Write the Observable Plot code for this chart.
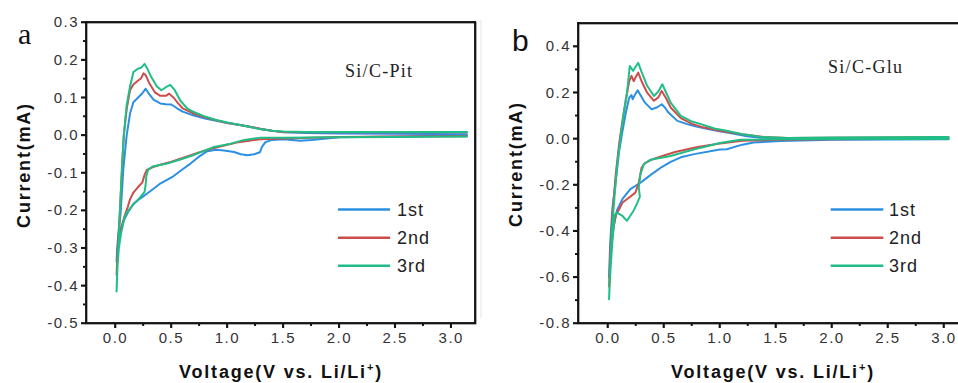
<!DOCTYPE html>
<html><head><meta charset="utf-8">
<script src="https://cdn.jsdelivr.net/npm/d3@7"></script>
<script src="https://cdn.jsdelivr.net/npm/@observablehq/plot@0.6"></script>
<style>
html,body{margin:0;padding:0;background:#fff;overflow:hidden;width:958px;height:383px}
#wrap{position:relative;width:958px;height:383px;overflow:hidden;background:#fff}
.panel{position:absolute;top:0}
.panel svg{max-width:none !important}
.panel svg text{fill:#333}
</style></head>
<body><div id="wrap"></div>
<script>
// ---------- data: [voltage (V), current (mA)] ----------
const seriesNames = ["1st", "2nd", "3rd"];
const seriesColors = ["#2b8fe3", "#cc4e4b", "#20be86"];
const inkColor = "#151515";

const pit1st = [[3.14,0.0],[2.5,-0.003],[2.0,-0.005],[1.75,-0.012],[1.65,-0.014],[1.5,-0.01],[1.4,-0.012],[1.34,-0.018],[1.31,-0.03],[1.29,-0.045],[1.24,-0.05],[1.18,-0.053],[1.12,-0.05],[1.06,-0.044],[0.97,-0.04],[0.9,-0.038],[0.82,-0.042],[0.74,-0.058],[0.67,-0.075],[0.6,-0.09],[0.52,-0.108],[0.46,-0.118],[0.4,-0.128],[0.34,-0.142],[0.28,-0.155],[0.22,-0.168],[0.16,-0.182],[0.12,-0.2],[0.075,-0.226],[0.05,-0.245],[0.03,-0.265],[0.015,-0.3],[0.01,-0.335],
  [0.02,-0.28],[0.045,-0.21],[0.07,-0.09],[0.1,0.0],[0.13,0.058],[0.16,0.088],[0.2,0.1],[0.24,0.112],[0.27,0.124],[0.3,0.11],[0.34,0.095],[0.4,0.085],[0.45,0.083],[0.5,0.082],[0.55,0.072],[0.6,0.063],[0.7,0.053],[0.8,0.045],[0.9,0.039],[1.0,0.033],[1.1,0.028],[1.2,0.023],[1.3,0.017],[1.4,0.012],[1.5,0.008],[1.7,0.006],[2.0,0.005],[2.5,0.004],[3.14,0.003]];
const pit2nd = [[3.14,-0.002],[2.5,-0.003],[2.0,-0.004],[1.5,-0.008],[1.3,-0.01],[1.1,-0.018],[1.0,-0.025],[0.9,-0.032],[0.8,-0.04],[0.7,-0.05],[0.6,-0.06],[0.5,-0.07],[0.4,-0.078],[0.33,-0.085],[0.28,-0.092],[0.26,-0.105],[0.24,-0.125],[0.2,-0.138],[0.16,-0.152],[0.13,-0.17],[0.11,-0.19],[0.08,-0.215],[0.05,-0.25],[0.03,-0.28],[0.015,-0.33],[0.01,-0.37],
  [0.02,-0.3],[0.04,-0.2],[0.06,-0.08],[0.074,0.0],[0.1,0.07],[0.13,0.12],[0.16,0.135],[0.2,0.145],[0.23,0.152],[0.25,0.165],[0.27,0.16],[0.3,0.14],[0.35,0.115],[0.4,0.105],[0.45,0.105],[0.48,0.111],[0.52,0.1],[0.56,0.085],[0.6,0.072],[0.7,0.058],[0.8,0.048],[0.9,0.04],[1.0,0.033],[1.1,0.028],[1.2,0.023],[1.3,0.017],[1.4,0.012],[1.5,0.009],[1.7,0.008],[2.0,0.008],[2.5,0.008],[3.14,0.008]];
const pit3rd = [[3.14,-0.003],[2.5,-0.004],[2.0,-0.005],[1.5,-0.006],[1.3,-0.006],[1.15,-0.012],[1.03,-0.022],[0.88,-0.031],[0.7,-0.052],[0.6,-0.062],[0.46,-0.075],[0.33,-0.083],[0.29,-0.092],[0.275,-0.11],[0.27,-0.13],[0.26,-0.15],[0.22,-0.165],[0.17,-0.18],[0.13,-0.195],[0.1,-0.205],[0.08,-0.22],[0.05,-0.26],[0.03,-0.3],[0.015,-0.36],[0.01,-0.415],
  [0.02,-0.33],[0.04,-0.2],[0.06,-0.07],[0.075,0.0],[0.1,0.08],[0.13,0.13],[0.16,0.168],[0.2,0.177],[0.23,0.18],[0.26,0.19],[0.28,0.18],[0.32,0.155],[0.37,0.13],[0.41,0.12],[0.45,0.128],[0.49,0.134],[0.53,0.12],[0.58,0.092],[0.64,0.072],[0.7,0.062],[0.8,0.05],[0.9,0.041],[1.0,0.034],[1.1,0.028],[1.2,0.022],[1.3,0.016],[1.4,0.012],[1.5,0.01],[1.7,0.009],[2.0,0.009],[2.5,0.009],[3.14,0.009]];

const glu1st = [[3.04,-0.002],[2.5,-0.003],[2.0,-0.004],[1.54,-0.009],[1.3,-0.016],[1.2,-0.025],[1.06,-0.045],[1.0,-0.046],[0.77,-0.066],[0.65,-0.08],[0.56,-0.1],[0.48,-0.122],[0.41,-0.146],[0.35,-0.168],[0.29,-0.19],[0.2,-0.218],[0.13,-0.26],[0.08,-0.31],[0.05,-0.38],[0.03,-0.45],[0.02,-0.51],[0.01,-0.6],
  [0.02,-0.45],[0.04,-0.3],[0.07,-0.18],[0.1,-0.052],[0.13,0.035],[0.16,0.114],[0.19,0.179],[0.21,0.19],[0.22,0.172],[0.24,0.19],[0.265,0.211],[0.29,0.19],[0.33,0.157],[0.39,0.128],[0.44,0.137],[0.48,0.15],[0.51,0.135],[0.54,0.114],[0.62,0.078],[0.7,0.065],[0.77,0.056],[0.87,0.045],[0.97,0.035],[1.1,0.024],[1.22,0.013],[1.36,0.005],[1.6,0.003],[2.0,0.004],[2.5,0.004],[3.04,0.005]];
const glu2nd = [[3.04,-0.001],[2.5,-0.001],[2.0,-0.002],[1.5,-0.004],[1.2,-0.008],[1.0,-0.02],[0.8,-0.035],[0.6,-0.057],[0.5,-0.072],[0.4,-0.088],[0.33,-0.105],[0.3,-0.125],[0.275,-0.19],[0.245,-0.233],[0.19,-0.254],[0.13,-0.276],[0.1,-0.305],[0.07,-0.33],[0.05,-0.384],[0.03,-0.47],[0.02,-0.54],[0.01,-0.64],
  [0.02,-0.5],[0.04,-0.33],[0.07,-0.15],[0.1,-0.02],[0.13,0.08],[0.16,0.17],[0.19,0.25],[0.21,0.273],[0.23,0.25],[0.25,0.27],[0.27,0.287],[0.3,0.25],[0.35,0.2],[0.41,0.165],[0.45,0.18],[0.48,0.208],[0.52,0.175],[0.56,0.136],[0.65,0.09],[0.75,0.065],[0.85,0.05],[1.0,0.035],[1.2,0.02],[1.4,0.008],[1.6,0.004],[2.0,0.005],[2.5,0.006],[3.04,0.007]];
const glu3rd = [[3.04,0.0],[2.5,-0.001],[2.0,-0.001],[1.5,-0.002],[1.18,-0.004],[1.0,-0.018],[0.83,-0.038],[0.7,-0.055],[0.56,-0.074],[0.45,-0.084],[0.38,-0.09],[0.32,-0.11],[0.29,-0.153],[0.275,-0.21],[0.285,-0.25],[0.26,-0.28],[0.23,-0.31],[0.17,-0.355],[0.13,-0.334],[0.08,-0.32],[0.06,-0.33],[0.04,-0.44],[0.02,-0.586],[0.01,-0.695],
  [0.02,-0.55],[0.035,-0.4],[0.05,-0.3],[0.08,-0.124],[0.11,0.0],[0.14,0.107],[0.17,0.2],[0.195,0.316],[0.225,0.295],[0.25,0.315],[0.27,0.33],[0.3,0.29],[0.35,0.23],[0.41,0.186],[0.45,0.205],[0.485,0.237],[0.52,0.2],[0.56,0.157],[0.65,0.1],[0.75,0.075],[0.83,0.064],[0.95,0.045],[1.06,0.035],[1.2,0.02],[1.36,0.009],[1.6,0.004],[2.0,0.006],[2.5,0.007],[3.04,0.008]];

// ---------- ticks ----------
const xTicksMajor = [0, 0.5, 1.0, 1.5, 2.0, 2.5, 3.0];
const xTicksMinor = [0.25, 0.75, 1.25, 1.75, 2.25, 2.75];
const pitYMajor = [-0.5, -0.4, -0.3, -0.2, -0.1, 0, 0.1, 0.2, 0.3];
const pitYMinor = [-0.45, -0.35, -0.25, -0.15, -0.05, 0.05, 0.15, 0.25];
const gluYMajor = [-0.8, -0.6, -0.4, -0.2, 0, 0.2, 0.4];
const gluYMinor = [-0.7, -0.5, -0.3, -0.1, 0.1, 0.3];

const panelLabels = ["a", "b"];
const sampleLabels = ["Si/C-Pit", "Si/C-Glu"];
const yTitle = "Current(mA)";
const xTitle = "Voltage(V vs. Li/Li";

const wrap = document.getElementById("wrap");

function panel(o) {
  const fmt = d => d.toFixed(1);
  const svg = Plot.plot({
    width: o.width, height: 383,
    marginLeft: o.ml, marginRight: o.mr, marginTop: o.mt, marginBottom: 60,
    style: {fontFamily: "'Liberation Sans', Arial, sans-serif", fontSize: "15px", letterSpacing: "1.5px", color: inkColor, background: "transparent", overflow: "visible", maxWidth: "none"},
    x: {domain: o.xd},
    y: {domain: o.yd},
    marks: [
      Plot.axisX({ticks: xTicksMajor, tickSize: 5, tickPadding: 4, tickFormat: fmt, label: null, stroke: inkColor, strokeWidth: 1.6, fontSize: 15}),
      Plot.axisX({ticks: xTicksMinor, tickSize: 3, tickFormat: () => "", label: null, stroke: inkColor, strokeWidth: 1.4}),
      Plot.axisY({ticks: o.yMajor, tickSize: 5, tickPadding: 2.5, tickFormat: fmt, label: null, stroke: inkColor, strokeWidth: 1.6, fontSize: 15}),
      Plot.axisY({ticks: o.yMinor, tickSize: 3, tickFormat: () => "", label: null, stroke: inkColor, strokeWidth: 1.4}),
      Plot.frame({stroke: inkColor, strokeWidth: 1.7}),
      ...o.series.map((s, i) => Plot.line(s, {x: d => d[0], y: d => d[1], stroke: seriesColors[i], strokeWidth: 2}))
    ]
  });
  const div = document.createElement("div");
  div.className = "panel";
  div.style.left = o.left + "px";
  div.style.width = o.width + "px";
  div.appendChild(svg);
  wrap.appendChild(div);
  const g = d3.select(svg);
  // frame and ticks as thin filled bars, positioned through Plot's own scales
  const sx = svg.scale("x"), sy = svg.scale("y");
  const [x0, x1] = sx.range, [y0, y1] = sy.range;
  const bottom = Math.max(y0, y1), top = Math.min(y0, y1);
  const ink = g.append("g").attr("fill", inkColor).attr("stroke", "none");
  const bar = (x, y, w, h) => ink.append("rect").attr("x", x).attr("y", y).attr("width", w).attr("height", h);
  bar(x0 - 0.9, top - 0.9, x1 - x0 + 1.8, 1.8);
  bar(x0 - 0.9, bottom - 0.9, x1 - x0 + 1.8, 1.8);
  bar(x0 - 0.9, top - 0.9, 1.8, bottom - top + 1.8);
  bar(x1 - 0.9, top - 0.9, 1.8, bottom - top + 1.8);
  xTicksMajor.forEach(v => bar(sx.apply(v) - 0.8, bottom, 1.6, 5));
  xTicksMinor.forEach(v => bar(sx.apply(v) - 0.7, bottom, 1.4, 3));
  o.yMajor.forEach(v => bar(x0 - 5, sy.apply(v) - 0.8, 5, 1.6));
  o.yMinor.forEach(v => bar(x0 - 3, sy.apply(v) - 0.7, 3, 1.4));
  // panel letter
  g.append("text").attr("x", o.letter[0]).attr("y", o.letter[1]).attr("text-anchor", "start")
    .attr("style", `fill:#111;font-family:${o.letterFont};font-size:${o.letterSize}px;letter-spacing:0`)
    .text(o.letterText);
  // y title
  g.append("text").attr("transform", `translate(${o.yt[0]},${o.yt[1]}) rotate(-90)`)
    .attr("text-anchor", "middle")
    .attr("style", "fill:#111;font-family:'Liberation Sans',Arial,sans-serif;font-weight:bold;font-size:18px;letter-spacing:1.8px")
    .text(yTitle);
  // x title
  const xt = g.append("text").attr("x", o.xt[0]).attr("y", o.xt[1]).attr("text-anchor", "middle")
    .attr("style", "fill:#111;font-family:'Liberation Sans',Arial,sans-serif;font-weight:bold;font-size:18px;letter-spacing:1.8px");
  xt.append("tspan").text(xTitle);
  xt.append("tspan").attr("dy", -7).attr("style", "font-size:11px").text("+");
  xt.append("tspan").attr("dy", 7).text(")");
  // sample name
  g.append("text").attr("x", o.name[0]).attr("y", o.name[1]).attr("text-anchor", "start")
    .attr("style", "fill:#222;font-family:'Liberation Serif','Times New Roman',serif;font-size:18px;letter-spacing:1.3px")
    .text(o.nameText);
  // legend
  const ly = [209.5, 237.7, 265.7];
  seriesNames.forEach((n, i) => {
    g.append("line").attr("x1", o.leg[0]).attr("x2", o.leg[1]).attr("y1", ly[i]).attr("y2", ly[i])
      .attr("stroke", seriesColors[i]).attr("stroke-width", 2.5);
    g.append("text").attr("x", o.leg[2]).attr("y", ly[i] + 6.5).attr("text-anchor", "start")
      .attr("style", "fill:#222;font-family:'Liberation Sans',Arial,sans-serif;font-size:18px;letter-spacing:1px")
      .text(n);
  });
  return g;
}

panel({
  left: 0, width: 480, ml: 86, mr: 5, mt: 22,
  xd: [-0.259, 3.217], yd: [-0.5, 0.3],
  yMajor: pitYMajor, yMinor: pitYMinor,
  series: [pit1st, pit2nd, pit3rd],
  letter: [18, 44], letterText: panelLabels[0], letterFont: "'Liberation Serif','Times New Roman',serif", letterSize: 30,
  yt: [30, 165], xt: [281, 378],
  name: [345, 77], nameText: sampleLabels[0],
  leg: [338, 390, 397]
});

const gb = panel({
  left: 480, width: 490, ml: 98, mr: 3, mt: 23,
  xd: [-0.263, 3.21], yd: [-0.8, 0.5],
  yMajor: gluYMajor, yMinor: gluYMinor,
  series: [glu1st, glu2nd, glu3rd],
  letter: [32, 51], letterText: panelLabels[1], letterFont: "'Liberation Sans',Arial,sans-serif", letterSize: 30,
  yt: [42, 164], xt: [293, 378],
  name: [348, 73], nameText: sampleLabels[1],
  leg: [350.7, 403.3, 409]
});
gb.append("line").attr("x1", 1).attr("x2", 1).attr("y1", 20).attr("y2", 318).attr("stroke", "#e4e4e4").attr("stroke-width", 1);
</script>
</body></html>
